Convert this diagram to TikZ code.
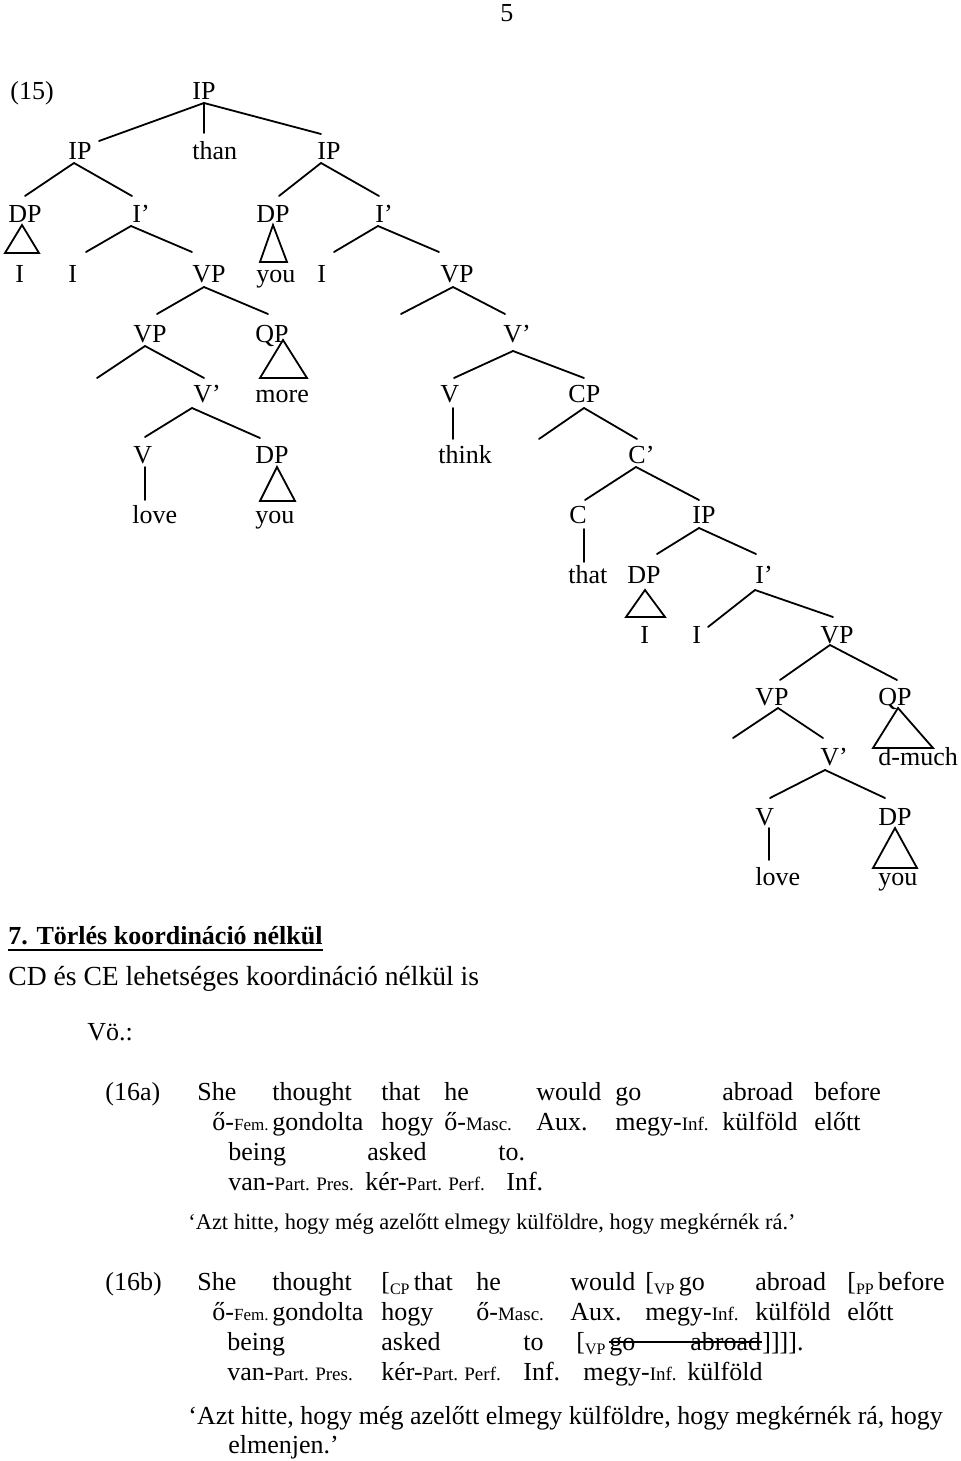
\documentclass[tikz,border=0pt]{standalone}
\usepackage{fontspec}
\setmainfont{Liberation Serif}
\newcommand{\sm}[1]{{\fontsize{9.5}{10}\selectfont #1}}
\newcommand{\smn}[1]{{\fontsize{8.5}{10}\selectfont #1}}
\newcommand{\sbs}[1]{\raisebox{-2pt}{\fontsize{8}{8}\selectfont #1}}
\tikzset{
  lab/.style={anchor=base west, inner sep=0pt, font=\fontsize{13}{15}\selectfont},
  txt/.style={anchor=base west, inner sep=0pt, font=\fontsize{13}{15}\selectfont},
  br/.style={line width=0.9pt, line cap=round, line join=miter},
}
\newcommand{\brr}[6]{\draw[br] ([shift={(#2,#3)}]#1.base west) -- ([shift={(#5,#6)}]#4.base west);}
\newcommand{\bre}[4]{\draw[br] ([shift={(#2,#3)}]#1.base west) -- (#4);}
\newcommand{\tri}[7]{\draw[br] ([shift={(#2,#3)}]#1.base west) -- ([shift={(#4,#5)}]#1.base west) -- ([shift={(#6,#7)}]#1.base west) -- cycle;}
\begin{document}
\begin{tikzpicture}[x=0.5pt,y=-0.5pt]
\useasboundingbox (0,0) rectangle (960,1461);
% page number
\node[txt] (pg) at (500,22) {5};
% ---------- tree labels ----------
\node[lab] (ex15) at (10,100) {(15)};
\node[lab] (ipA) at (192,100) {IP};
\node[lab] (ipB) at (68,160) {IP};
\node[lab] (than) at (192,160) {than};
\node[lab] (ipC) at (317,160) {IP};
\node[lab] (dpA) at (8,222) {DP};
\node[lab] (ibA) at (132,222) {I’};
\node[lab] (dpB) at (256,222) {DP};
\node[lab] (ibB) at (375,222) {I’};
\node[lab] (iA) at (15,282) {I};
\node[lab] (iB) at (68,282) {I};
\node[lab] (vpA) at (192,282) {VP};
\node[lab] (youA) at (256,282) {you};
\node[lab] (iC) at (317,282) {I};
\node[lab] (vpB) at (440,282) {VP};
\node[lab] (vpC) at (133,342) {VP};
\node[lab] (qpA) at (255,342) {QP};
\node[lab] (vbA) at (503,342) {V’};
\node[lab] (vbB) at (193,402) {V’};
\node[lab] (more) at (255,402) {more};
\node[lab] (vA) at (440,402) {V};
\node[lab] (cpA) at (568,402) {CP};
\node[lab] (vB) at (133,463) {V};
\node[lab] (dpC) at (255,463) {DP};
\node[lab] (think) at (438,463) {think};
\node[lab] (cbA) at (628,463) {C’};
\node[lab] (loveA) at (132,523) {love};
\node[lab] (youB) at (255,523) {you};
\node[lab] (cA) at (569,523) {C};
\node[lab] (ipD) at (692,523) {IP};
\node[lab] (that) at (568,583) {that};
\node[lab] (dpD) at (627,583) {DP};
\node[lab] (ibC) at (755,583) {I’};
\node[lab] (iD) at (640,643) {I};
\node[lab] (iE) at (692,643) {I};
\node[lab] (vpD) at (820,643) {VP};
\node[lab] (vpE) at (755,705) {VP};
\node[lab] (qpB) at (878,705) {QP};
\node[lab] (vbC) at (820,765) {V’};
\node[lab] (dmuch) at (878,765) {d-much};
\node[lab] (vC) at (755,825) {V};
\node[lab] (dpE) at (878,825) {DP};
\node[lab] (loveB) at (755,885) {love};
\node[lab] (youC) at (878,885) {you};
% empty branch ends
\coordinate (t1) at (401,314);
\coordinate (t2) at (97,378);
\coordinate (t3) at (539,439);
\coordinate (t4) at (733,738);
% ---------- branches ----------
\brr{ipA}{12}{3}{ipB}{31}{-19}
\brr{ipA}{12}{3}{than}{12}{-27}
\brr{ipA}{12}{3}{ipC}{4}{-26}
\brr{ipB}{6}{3}{dpA}{17}{-26}
\brr{ipB}{6}{3}{ibA}{0}{-26}
\brr{ipC}{4}{3}{dpB}{23}{-26}
\brr{ipC}{4}{3}{ibB}{4}{-26}
\tri{dpA}{14}{3}{-3}{31}{31}{31}
\brr{ibA}{-1}{4}{iB}{18}{-30}
\brr{ibA}{-1}{4}{vpA}{0}{-30}
\tri{dpB}{17}{3}{4}{40}{31}{40}
\brr{ibB}{3}{4}{iC}{17}{-30}
\brr{ibB}{3}{4}{vpB}{-1}{-30}
\brr{vpA}{12}{5}{vpC}{24}{-28}
\brr{vpA}{12}{5}{qpA}{13}{-28}
\bre{vpB}{13}{5}{t1}
\brr{vpB}{13}{5}{vbA}{2}{-28}
\bre{vpC}{12}{4}{t2}
\brr{vpC}{12}{4}{vbB}{11}{-24}
\tri{qpA}{28}{-2}{5}{36}{52}{36}
\brr{vbA}{10}{9}{vA}{14}{-24}
\brr{vbA}{10}{9}{cpA}{16}{-24}
\brr{vbB}{-1}{6}{vB}{12}{-26}
\brr{vbB}{-1}{6}{dpC}{5}{-25}
\brr{vA}{13}{6}{think}{15}{-24}
\bre{cpA}{16}{6}{t3}
\brr{cpA}{16}{6}{cbA}{9}{-24}
\brr{vB}{12}{4}{loveA}{13}{-23}
\tri{dpC}{22}{4}{5}{38}{40}{38}
\brr{cbA}{8}{4}{cA}{16}{-23}
\brr{cbA}{8}{4}{ipD}{7}{-23}
\brr{cA}{15}{6}{that}{16}{-21}
\brr{ipD}{7}{5}{dpD}{30}{-29}
\brr{ipD}{7}{5}{ibC}{1}{-29}
\tri{dpD}{18}{7}{-1}{34}{38}{34}
\brr{ibC}{0}{7}{iE}{16}{-16}
\brr{ibC}{0}{7}{vpD}{13}{-26}
\brr{vpD}{10}{2}{vpE}{25}{-25}
\brr{vpD}{10}{2}{qpB}{19}{-25}
\bre{vpE}{23}{3}{t4}
\brr{vpE}{23}{3}{vbC}{3}{-27}
\tri{qpB}{20}{3}{-5}{43}{55}{43}
\brr{vbC}{5}{5}{vC}{15}{-27}
\brr{vbC}{5}{5}{dpE}{7}{-27}
\brr{vC}{14}{3}{loveB}{14}{-25}
\tri{dpE}{17}{3}{-5}{43}{39}{43}
% ---------- section 7 ----------
\node[txt] (h7) at (8,944) {\bfseries 7. Törlés koordináció nélkül};
\draw[line width=0.9pt] ([shift={(0,6)}]h7.base west) -- ([shift={(0,6)}]h7.base east);
\node[txt,font=\fontsize{13.8}{15}\selectfont] (cd) at (8,985) {CD és CE lehetséges koordináció nélkül is};
\node[txt] (vo) at (87,1040) {Vö.:};
% ---------- (16a) ----------
\node[txt] (a0) at (105,1100) {(16a)};
\node[txt] (a1) at (197,1100) {She};
\node[txt] (a2) at (272,1100) {thought};
\node[txt] (a3) at (381,1100) {that};
\node[txt] (a4) at (444,1100) {he};
\node[txt] (a5) at (536,1100) {would};
\node[txt] (a6) at (615,1100) {go};
\node[txt] (a7) at (722,1100) {abroad};
\node[txt] (a8) at (814,1100) {before};
\node[txt] (b1) at (212,1130) {ő-\smn{Fem.}};
\node[txt] (b2) at (272,1130) {gondolta};
\node[txt] (b3) at (381,1130) {hogy};
\node[txt] (b4) at (444,1130) {ő-\sm{Masc.}};
\node[txt] (b5) at (536,1130) {Aux.};
\node[txt] (b6) at (615,1130) {megy-\sm{Inf.}};
\node[txt] (b7) at (722,1130) {külföld};
\node[txt] (b8) at (814,1130) {előtt};
\node[txt] (c1) at (228,1160) {being};
\node[txt] (c2) at (367,1160) {asked};
\node[txt] (c3) at (498,1160) {to.};
\node[txt] (d1) at (228,1190) {van-\sm{Part. Pres.}};
\node[txt] (d2) at (365,1190) {kér-\sm{Part. Perf.}};
\node[txt] (d3) at (506,1190) {Inf.};
\node[txt,font=\fontsize{11.2}{13}\selectfont] (ta) at (188,1229) {‘Azt hitte, hogy még azelőtt elmegy külföldre, hogy megkérnék rá.’};
% ---------- (16b) ----------
\node[txt] (e0) at (105,1290) {(16b)};
\node[txt] (e1) at (197,1290) {She};
\node[txt] (e2) at (272,1290) {thought};
\node[txt] (e3) at (381,1290) {[\sbs{CP}\,that};
\node[txt] (e4) at (476,1290) {he};
\node[txt] (e5) at (570,1290) {would};
\node[txt] (e6) at (645,1290) {[\sbs{VP}\,go};
\node[txt] (e7) at (755,1290) {abroad};
\node[txt] (e8) at (847,1290) {[\sbs{PP}\,before};
\node[txt] (f1) at (212,1320) {ő-\smn{Fem.}};
\node[txt] (f2) at (272,1320) {gondolta};
\node[txt] (f3) at (381,1320) {hogy};
\node[txt] (f4) at (476,1320) {ő-\sm{Masc.}};
\node[txt] (f5) at (570,1320) {Aux.};
\node[txt] (f6) at (645,1320) {megy-\sm{Inf.}};
\node[txt] (f7) at (755,1320) {külföld};
\node[txt] (f8) at (847,1320) {előtt};
\node[txt] (g1) at (227,1350) {being};
\node[txt] (g2) at (381,1350) {asked};
\node[txt] (g3) at (523,1350) {to};
\node[txt] (g4) at (576,1350) {[\sbs{VP}};
\node[txt] (sgo) at (609,1350) {go};
\node[txt] (sab) at (690,1350) {abroad};
\node[txt] (g5) at (762,1350) {]]]].};
\draw[line width=0.8pt] ([shift={(0,-8)}]sgo.base west) -- ([shift={(0,-8)}]sab.base east);
\node[txt] (h1) at (227,1380) {van-\sm{Part. Pres.}};
\node[txt] (h2) at (381,1380) {kér-\sm{Part. Perf.}};
\node[txt] (h3) at (523,1380) {Inf.};
\node[txt] (h4) at (583,1380) {megy-\sm{Inf.}};
\node[txt] (h5) at (687,1380) {külföld};
\node[txt] (tb1) at (188,1424) {‘Azt hitte, hogy még azelőtt elmegy külföldre, hogy megkérnék rá, hogy};
\node[txt] (tb2) at (228,1453) {elmenjen.’};
\end{tikzpicture}
\end{document}
